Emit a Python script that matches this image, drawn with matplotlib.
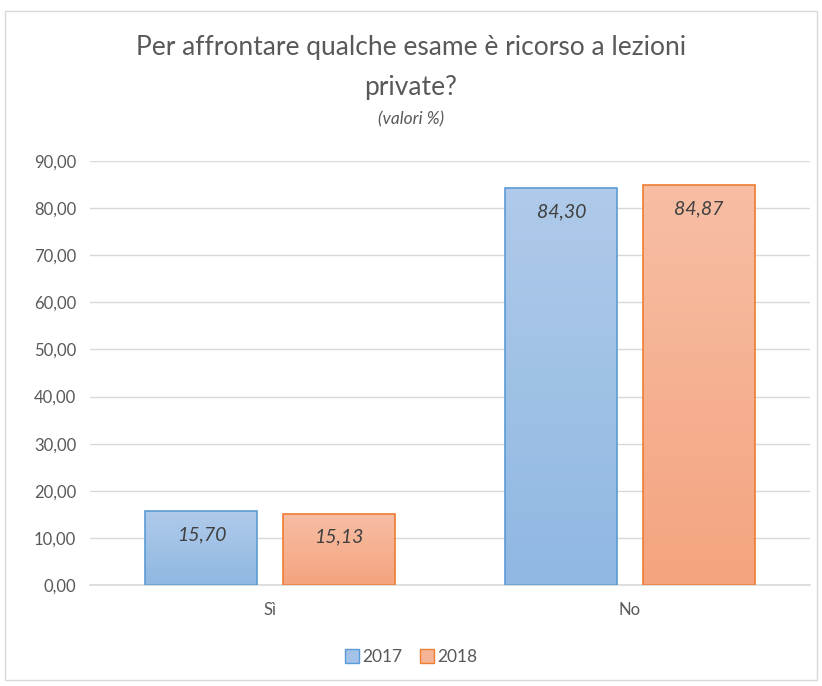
import numpy as np
import matplotlib.pyplot as plt
from matplotlib.patches import Rectangle, Patch
from matplotlib.colors import LinearSegmentedColormap

# --- Dati ---
categorie = ['Sì', 'No']
anni = ['2017', '2018']
valori_2017 = [15.70, 84.30]
valori_2018 = [15.13, 84.87]
tick_y = [0, 10, 20, 30, 40, 50, 60, 70, 80, 90]

plt.rcParams['font.family'] = ['Lato', 'DejaVu Sans']
grigio = '#595959'

fig = plt.figure(figsize=(8.22, 6.86), dpi=100, facecolor='white')
ax = fig.add_axes([90 / 822, 1 - 585 / 686, 720 / 822, 424 / 686])

# --- Bordo del grafico ---
fig.patches.append(Rectangle((5 / 822, 6 / 686), 812 / 822, 669 / 686,
                             transform=fig.transFigure, fill=False,
                             edgecolor='#d9d9d9', linewidth=1))

x = np.arange(len(categorie))
larghezza = 0.31
offset = 0.191

stili = [
    (valori_2017, -offset, ['#90b8e2', '#afcaea'], '#5b9bd5'),
    (valori_2018, offset, ['#f4a47f', '#f7bea4'], '#ed7d31'),
]

for valori, dx, colori, bordo in stili:
    cmap = LinearSegmentedColormap.from_list('g', colori)
    barre = ax.bar(x + dx, valori, larghezza, facecolor='none',
                   edgecolor=bordo, linewidth=1.2, zorder=3)
    for b, v in zip(barre, valori):
        x0 = b.get_x()
        grad = np.linspace(0, 1, 100).reshape(-1, 1)
        im = ax.imshow(grad, cmap=cmap, aspect='auto', origin='lower',
                       extent=[x0, x0 + b.get_width(), 0, v], zorder=2)
        im.set_clip_path(b)
        ax.text(b.get_x() + b.get_width() / 2, v - 5.0,
                f'{v:.2f}'.replace('.', ','), ha='center', va='center',
                fontsize=14, style='italic', color='#404040', zorder=4)

ax.set_xlim(-0.5, 1.5)
ax.set_ylim(0, 90)
ax.set_yticks(tick_y)
ax.set_yticklabels([f'{t:.2f}'.replace('.', ',') for t in tick_y])
ax.set_xticks(x)
ax.set_xticklabels(categorie)
ax.tick_params(axis='both', length=0, labelsize=12, colors=grigio)
ax.tick_params(axis='x', pad=12)
ax.tick_params(axis='y', pad=10)
ax.grid(axis='y', color='#d9d9d9', linewidth=1, zorder=0)
ax.set_axisbelow(True)
for s in ['top', 'right', 'left']:
    ax.spines[s].set_visible(False)
ax.spines['bottom'].set_color('#d9d9d9')
ax.spines['bottom'].set_linewidth(1.2)

# --- Titolo ---
fig.text(0.5, 1 - 48 / 686, 'Per affrontare qualche esame è ricorso a lezioni',
         ha='center', va='center', fontsize=19, color=grigio)
fig.text(0.5, 1 - 88 / 686, 'private?', ha='center', va='center',
         fontsize=19, color=grigio)
fig.text(0.5, 1 - 119 / 686, '(valori %)', ha='center', va='center',
         fontsize=12.5, style='italic', color=grigio)

# --- Legenda ---
maniglie = [Patch(facecolor='#a4c2e7', edgecolor='#5b9bd5', label=anni[0]),
            Patch(facecolor='#f6b496', edgecolor='#ed7d31', label=anni[1])]
fig.legend(handles=maniglie, loc='center', bbox_to_anchor=(0.5, 1 - 657 / 686),
           ncol=2, frameon=False, fontsize=12.5, handlelength=0.8,
           handleheight=0.8, handletextpad=0.2, columnspacing=1.0,
           labelcolor=grigio)

fig.savefig('out.png', dpi=100)
